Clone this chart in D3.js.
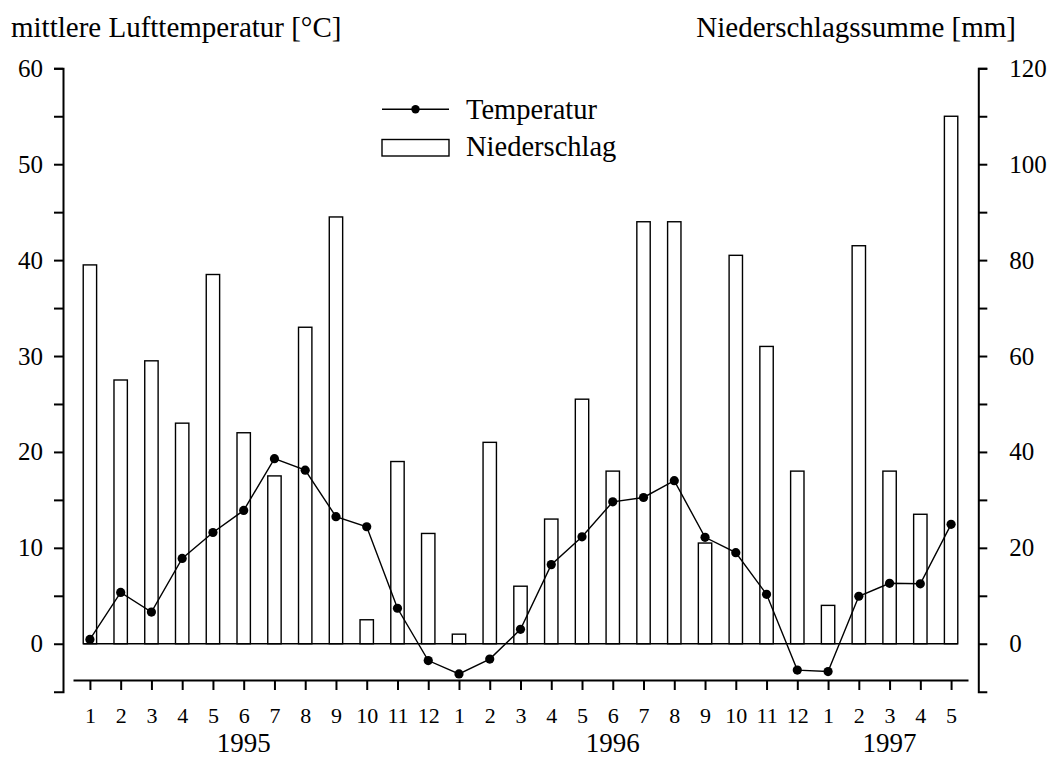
<!DOCTYPE html>
<html>
<head>
<meta charset="utf-8">
<script src="https://cdn.jsdelivr.net/npm/d3@7"></script>
<style>
  html, body { margin: 0; padding: 0; background: #fff; }
  svg { display: block; }
  text { font-family: "Liberation Serif", "Times New Roman", serif; fill: #000; }
</style>
</head>
<body>
<svg id="chart" width="1052" height="758"></svg>
<script>
// Monthly series, Jan 1995 – May 1997
const years = ["1995", "1996", "1997"];
const monthsPerYear = [12, 12, 5];
const monthLabels = [
  "1","2","3","4","5","6","7","8","9","10","11","12",
  "1","2","3","4","5","6","7","8","9","10","11","12",
  "1","2","3","4","5"
];
// mean air temperature [°C]
const temperature = [
  0.45, 5.35, 3.3, 8.9, 11.6, 13.9, 19.3, 18.1, 13.25, 12.2, 3.7, -1.75,
  -3.15, -1.6, 1.5, 8.25, 11.15, 14.8, 15.25, 17.0, 11.1, 9.5, 5.15, -2.75,
  -2.9, 4.95, 6.3, 6.25, 12.45
];
// monthly precipitation total [mm]
const precipitation = [
  79, 55, 59, 46, 77, 44, 35, 66, 89, 5, 38, 23,
  2, 42, 12, 26, 51, 36, 88, 88, 21, 81, 62, 36,
  8, 83, 36, 27, 110
];
const tempTicks = d3.range(0, 61, 5);
const precTicks = d3.range(0, 121, 10);
const legendItems = ["Temperatur", "Niederschlag"];
const leftTitle = "mittlere Lufttemperatur [°C]";
const rightTitle = "Niederschlagssumme [mm]";

// keys for each month slot
const keys = [];
const yearOfKey = [];
years.forEach((y, yi) => {
  for (let m = 1; m <= monthsPerYear[yi]; m++) { keys.push(y + "-" + m); yearOfKey.push(y); }
});

const svg = d3.select("#chart");

const x = d3.scalePoint().domain(keys).range([73, 968]).padding(0.55);
const yT = d3.scaleLinear().domain([-5, 60]).range([691.7, 68.3]);
const yP = d3.scaleLinear().domain([-10, 120]).range([691.7, 68.3]);
const barW = x.step() * 0.435;

// precipitation bars
const bars = svg.append("g");
bars.selectAll("rect").data(precipitation).join("rect")
  .attr("x", (d, i) => x(keys[i]) - barW / 2)
  .attr("y", d => yP(d))
  .attr("width", barW)
  .attr("height", d => yP(0) - yP(d))
  .attr("fill", "#fff")
  .attr("stroke", "#000")
  .attr("stroke-width", 1.4);

// bar baseline
bars.append("line")
  .attr("x1", x(keys[0]) - barW / 2)
  .attr("x2", x(keys[keys.length - 1]) + barW / 2)
  .attr("y1", yP(0)).attr("y2", yP(0))
  .attr("stroke", "#000").attr("stroke-width", 1.6);

// temperature line with markers
const line = d3.line().x((d, i) => x(keys[i])).y(d => yT(d));
svg.append("path").datum(temperature)
  .attr("d", line)
  .attr("fill", "none")
  .attr("stroke", "#000")
  .attr("stroke-width", 1.4);
svg.append("g").selectAll("circle").data(temperature).join("circle")
  .attr("cx", (d, i) => x(keys[i]))
  .attr("cy", d => yT(d))
  .attr("r", 4.6)
  .attr("fill", "#000");

// left axis (temperature)
const axL = svg.append("g").attr("transform", "translate(63,0)")
  .call(d3.axisLeft(yT).tickValues(tempTicks).tickSize(9).tickSizeOuter(9).tickPadding(11)
    .tickFormat(d => d % 10 === 0 ? d : ""));

// right axis (precipitation)
const axR = svg.append("g").attr("transform", "translate(978.3,0)")
  .call(d3.axisRight(yP).tickValues(precTicks).tickSize(9).tickSizeOuter(9).tickPadding(22)
    .tickFormat(d => d % 20 === 0 ? d : ""));

// bottom axis (months)
const axB = svg.append("g").attr("transform", "translate(0,680)")
  .call(d3.axisBottom(x).tickSize(10).tickSizeOuter(0).tickPadding(17)
    .tickFormat((k, i) => monthLabels[i]));

[axL, axR, axB].forEach(g => {
  g.selectAll("path.domain").attr("stroke-width", 2);
  g.selectAll(".tick line").attr("stroke-width", 2);
  g.selectAll("text").attr("font-family", null).attr("fill", "#000");
});
axL.selectAll("text").attr("font-size", 25);
axR.selectAll("text").attr("font-size", 25);
axB.selectAll("text").attr("font-size", 22);

// year labels under the middle month of each year
const yearCenters = years.map(y => {
  const ks = keys.filter((k, i) => yearOfKey[i] === y);
  return x(ks[Math.floor((ks.length - 1) / 2)]);
});
svg.append("g").selectAll("text").data(years).join("text")
  .attr("x", (d, i) => yearCenters[i])
  .attr("y", 752)
  .attr("text-anchor", "middle")
  .attr("font-size", 27)
  .text(d => d);

// axis titles
svg.append("text").attr("x", 11).attr("y", 37).attr("font-size", 29).text(leftTitle);
svg.append("text").attr("x", 1016).attr("y", 37).attr("text-anchor", "end").attr("font-size", 29).text(rightTitle);

// legend
const lg = svg.append("g");
lg.append("line").attr("x1", 382).attr("x2", 449).attr("y1", 109.3).attr("y2", 109.3)
  .attr("stroke", "#000").attr("stroke-width", 1.4);
lg.append("circle").attr("cx", 415.5).attr("cy", 109.3).attr("r", 4.2).attr("fill", "#000");
lg.append("rect").attr("x", 382).attr("y", 139.5).attr("width", 67).attr("height", 16.5)
  .attr("fill", "#fff").attr("stroke", "#000").attr("stroke-width", 1.4);
lg.selectAll("text").data(legendItems).join("text")
  .attr("x", 466)
  .attr("y", (d, i) => i === 0 ? 119 : 156)
  .attr("font-size", 28.5)
  .text(d => d);
</script>
</body>
</html>
